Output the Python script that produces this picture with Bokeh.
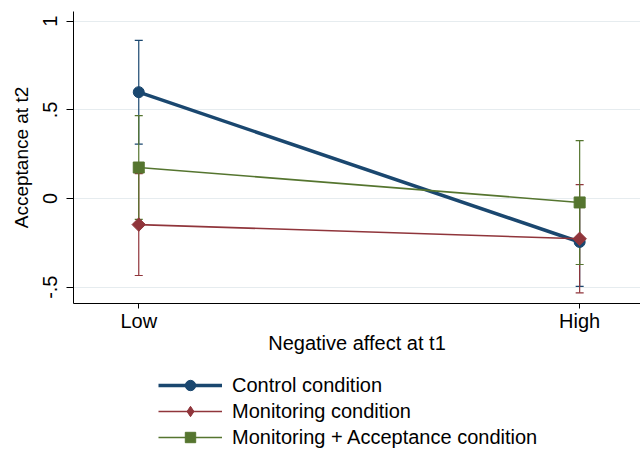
import math
from bokeh.plotting import figure
from bokeh.layouts import column
from bokeh.models import (ColumnDataSource, Whisker, TeeHead, Legend, LegendItem,
                          FixedTicker, Range1d)
from bokeh.embed import file_html
from bokeh.resources import INLINE

# ---- data ----
levels = ["Low", "High"]
conditions = ["Control condition", "Monitoring condition",
              "Monitoring + Acceptance condition"]
control_mean = [0.600, -0.245]
control_lo = [0.307, -0.495]
control_hi = [0.892, 0.005]
monitor_mean = [-0.147, -0.227]
monitor_lo = [-0.434, -0.532]
monitor_hi = [0.140, 0.079]
ma_mean = [0.175, -0.022]
ma_lo = [-0.118, -0.372]
ma_hi = [0.468, 0.327]
y_ticks = [-0.5, 0, 0.5, 1]
y_tick_labels = ["-.5", "0", ".5", "1"]

FONT = "Liberation Sans"
x_pos = [i + 1 for i in range(len(levels))]

p = figure(width=640, height=362, output_backend="svg", toolbar_location=None,
           x_range=Range1d(0.852, 2.138), y_range=Range1d(-0.592, 1.055),
           min_border_top=11, min_border_right=0, min_border_left=73, min_border_bottom=59)
p.outline_line_color = None
p.background_fill_color = "white"
p.border_fill_color = "white"

series = [
    (conditions[0], control_mean, control_lo, control_hi, "#1a476f", 3.5, "circle", 11, 0, "circle"),
    (conditions[1], monitor_mean, monitor_lo, monitor_hi, "#90353b", 1.6, "square", 9.5, math.pi / 4, "diamond"),
    (conditions[2], ma_mean, ma_lo, ma_hi, "#55752f", 1.6, "square", 11, 0, "square"),
]

# error bars first
for name, mean, lo, hi, col, lw, mk, sz, ang, lmk in series:
    src = ColumnDataSource(dict(x=x_pos, lower=lo, upper=hi))
    w = Whisker(source=src, base="x", lower="lower", upper="upper",
                line_color=col, line_width=1.2,
                upper_head=TeeHead(size=8, line_color=col, line_width=1.2),
                lower_head=TeeHead(size=8, line_color=col, line_width=1.2))
    p.add_layout(w)

for name, mean, lo, hi, col, lw, mk, sz, ang, lmk in series:
    src = ColumnDataSource(dict(x=x_pos, y=mean))
    p.line("x", "y", source=src, line_color=col, line_width=lw)
    p.scatter("x", "y", source=src, marker=mk, size=sz, angle=ang,
              fill_color=col, line_color=col)

# axes
p.xaxis.ticker = FixedTicker(ticks=x_pos)
p.xaxis.major_label_overrides = {x: l for x, l in zip(x_pos, levels)}
p.xaxis.axis_label = "Negative affect at t1"
p.yaxis.ticker = FixedTicker(ticks=y_ticks)
p.yaxis.major_label_overrides = {t: l for t, l in zip(y_ticks, y_tick_labels)}
p.yaxis.axis_label = "Acceptance at t2"
p.yaxis.major_label_orientation = "vertical"

for ax in (p.xaxis[0], p.yaxis[0]):
    ax.axis_line_color = "black"
    ax.axis_line_width = 1
    ax.major_tick_line_color = "black"
    ax.minor_tick_line_color = None
    ax.major_tick_in = 0
    ax.major_label_text_font = FONT
    ax.major_label_text_font_size = "20px"
    ax.major_label_text_color = "black"
    ax.axis_label_text_font = FONT
    ax.axis_label_text_font_size = "20px"
    ax.axis_label_text_font_style = "normal"
    ax.axis_label_text_color = "black"

p.yaxis.axis_label_text_font_size = "19px"
p.xaxis.major_tick_out = 5
p.xaxis.major_label_standoff = 1
p.xaxis.axis_label_standoff = -3
p.yaxis.major_tick_out = 7
p.yaxis.major_label_standoff = 9
p.yaxis.axis_label_standoff = 9

p.xgrid.grid_line_color = None
p.ygrid.grid_line_color = "#e6ecef"
p.ygrid.grid_line_width = 1.2

# ---- legend strip below the plot ----
# key renderers reuse the series data, but this strip's ranges keep them out of view
lg = figure(width=640, height=88, output_backend="svg", toolbar_location=None,
            x_axis_type=None, y_axis_type=None,
            x_range=Range1d(100, 101), y_range=Range1d(100, 101),
            min_border=0)
lg.outline_line_color = None
lg.xgrid.visible = False
lg.ygrid.visible = False
items = []
for name, mean, lo, hi, col, lw, mk, sz, ang, lmk in series:
    ksrc = ColumnDataSource(dict(x=x_pos, y=mean))
    ln = lg.line("x", "y", source=ksrc, line_color=col, line_width=lw)
    sc = lg.scatter("x", "y", source=ksrc, marker=lmk, size=sz, fill_color=col, line_color=col)
    items.append(LegendItem(label=name, renderers=[ln, sc]))

legend = Legend(items=items, location=(85, 0), orientation="vertical",
                glyph_width=64, glyph_height=26, label_height=26, spacing=0,
                label_standoff=10, padding=0, margin=0,
                label_text_font=FONT, label_text_font_size="20px",
                label_text_color="black",
                border_line_color=None, background_fill_alpha=0)
lg.add_layout(legend, "center")

open("out.html", "w").write(file_html(column(p, lg, spacing=0), INLINE))
